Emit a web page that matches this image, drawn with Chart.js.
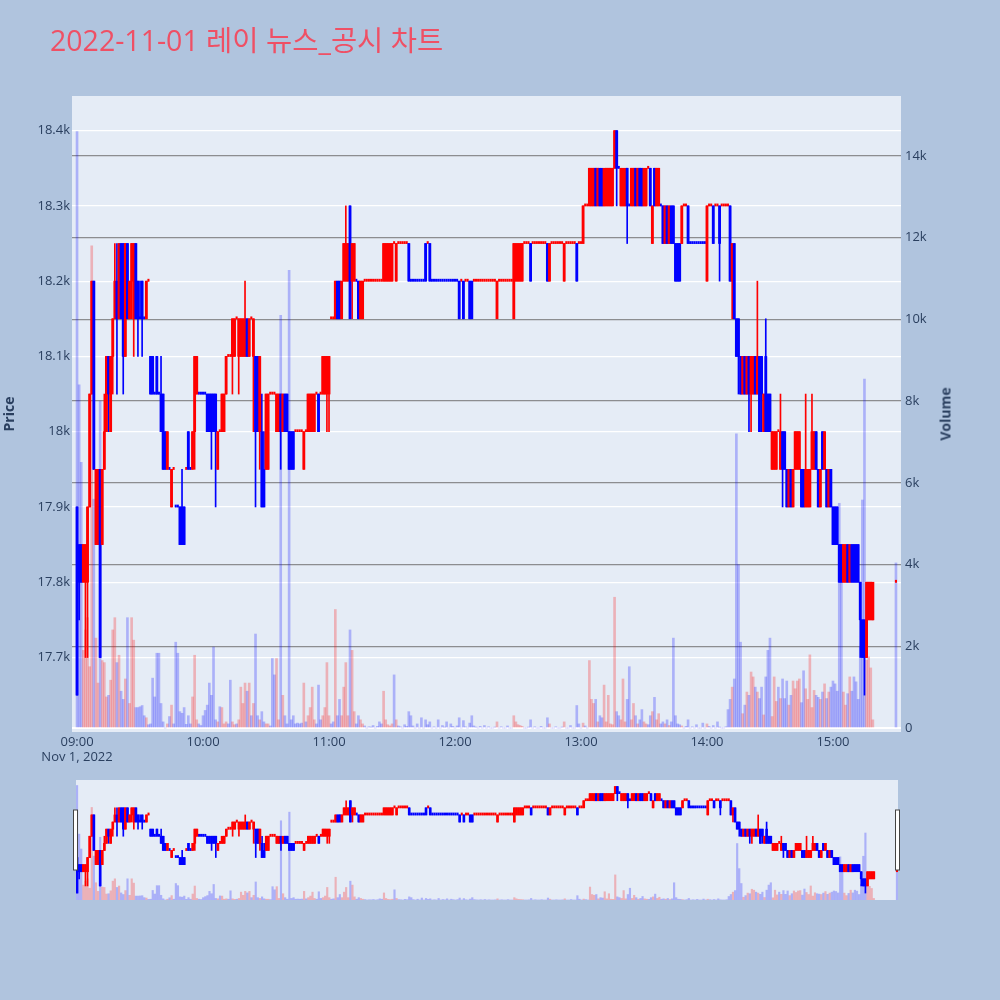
<!DOCTYPE html>
<html>
<head>
<meta charset="utf-8">
<script src="https://cdn.jsdelivr.net/npm/chart.js@4.4.0/dist/chart.umd.min.js"></script>
<style>
  html, body { margin: 0; padding: 0; width: 1000px; height: 1000px; overflow: hidden; background: #b0c4de; }
  #main { position: absolute; left: 0; top: 0; }
  #slider { position: absolute; left: 70px; top: 776px; }
  #title { position: absolute; left: 50px; top: 26px; z-index: 2; white-space: nowrap;
           font: 28.5px "Open Sans", "Noto Sans CJK KR", sans-serif; line-height: 28px; color: #ef5065; }
  #volTitle { position: absolute; left: 945px; top: 414px; z-index: 2; white-space: nowrap;
              transform: translate(-50%, -50%) rotate(-90deg);
              font: bold 14px "Open Sans", sans-serif; color: #2a3f5f; }
</style>
</head>
<body>
<canvas id="main" width="1000" height="770"></canvas>
<canvas id="slider" width="834" height="128"></canvas>
<div id="title">2022-11-01 레이 뉴스_공시 차트</div>
<div id="volTitle">Volume</div>
<script>
// 1분봉: 09:00 ~ 15:19, 마지막은 15:30 종가 단일가
const opens = [
  17900, 17850, 17850, 17800, 17800, 17800, 17900, 18050, 18200, 17850, // 09:00
  17850, 17950, 17850, 17950, 18000, 18100, 18000, 18100, 18150, 18200,
  18150, 18250, 18250, 18100, 18250, 18150, 18200, 18150, 18250, 18200,
  18150, 18200, 18150, 18150, 18200, 18100, 18100, 18050, 18100, 18050,
  18050, 18050, 18000, 17950, 17950, 17900, 17950, 17900, 17900, 17900,
  17900, 17900, 17950, 18000, 17950, 17950, 18000, 18050, 18050, 18050,
  18050, 18050, 18050, 18050, 18050, 18050, 18050, 17950, 18000, 18000, // 10:00
  18000, 18050, 18100, 18100, 18100, 18100, 18150, 18100, 18100, 18100,
  18100, 18150, 18100, 18150, 18100, 18100, 18100, 18000, 18000, 17950,
  17950, 17950, 18050, 18050, 18050, 18000, 18000, 18050, 18000, 18050,
  18050, 18000, 18000, 18000, 18000, 18000, 18000, 18000, 17950, 18000,
  18000, 18000, 18000, 18000, 18050, 18050, 18050, 18050, 18050, 18050,
  18050, 18150, 18150, 18150, 18200, 18200, 18150, 18200, 18200, 18200, // 11:00
  18300, 18200, 18200, 18200, 18200, 18150, 18150, 18200, 18200, 18200,
  18200, 18200, 18200, 18200, 18200, 18200, 18200, 18200, 18200, 18200,
  18200, 18250, 18200, 18250, 18250, 18250, 18250, 18250, 18250, 18200,
  18200, 18200, 18200, 18200, 18200, 18200, 18250, 18250, 18250, 18200,
  18200, 18200, 18200, 18200, 18200, 18200, 18200, 18200, 18200, 18200,
  18200, 18200, 18200, 18200, 18200, 18200, 18200, 18200, 18200, 18200, // 12:00
  18200, 18200, 18200, 18200, 18200, 18200, 18200, 18200, 18200, 18200,
  18150, 18200, 18200, 18200, 18200, 18200, 18200, 18200, 18150, 18200,
  18200, 18200, 18200, 18250, 18250, 18250, 18250, 18250, 18250, 18250,
  18250, 18250, 18250, 18250, 18250, 18200, 18250, 18250, 18250, 18250,
  18250, 18250, 18200, 18250, 18250, 18250, 18250, 18250, 18250, 18250,
  18250, 18250, 18300, 18300, 18300, 18300, 18300, 18350, 18300, 18350, // 13:00
  18350, 18300, 18300, 18300, 18300, 18300, 18350, 18400, 18350, 18300,
  18300, 18300, 18350, 18300, 18300, 18300, 18350, 18300, 18350, 18350,
  18300, 18300, 18350, 18350, 18250, 18350, 18300, 18300, 18300, 18300,
  18250, 18300, 18250, 18300, 18300, 18250, 18250, 18250, 18250, 18300,
  18300, 18300, 18250, 18250, 18250, 18250, 18250, 18250, 18250, 18250,
  18200, 18300, 18300, 18300, 18300, 18300, 18300, 18300, 18300, 18300, // 14:00
  18300, 18300, 18200, 18250, 18150, 18150, 18100, 18050, 18100, 18050,
  18100, 18050, 18050, 18100, 18050, 18100, 18100, 18000, 18100, 18050,
  18050, 17950, 17950, 17950, 18000, 17950, 18000, 18000, 17950, 17900,
  17950, 17900, 17950, 17950, 17950, 17950, 17950, 17900, 17900, 17900,
  17950, 17950, 18000, 17950, 17900, 18000, 17950, 17950, 17900, 17950,
  17900, 17900, 17900, 17850, 17850, 17800, 17800, 17850, 17800, 17850, // 15:00
  17850, 17850, 17850, 17800, 17750, 17750, 17700, 17750, 17750, 17750,
  17800
];
const highs = [
  17900, 17850, 17850, 17850, 17850, 17900, 18050, 18200, 18200, 17950,
  17950, 17950, 17950, 18050, 18100, 18100, 18100, 18150, 18250, 18250,
  18250, 18250, 18250, 18250, 18250, 18200, 18250, 18250, 18250, 18200,
  18200, 18200, 18150, 18200, 18200, 18100, 18100, 18050, 18100, 18050,
  18100, 18050, 18000, 18000, 17950, 17950, 17950, 17900, 17900, 17900,
  17950, 17900, 17950, 18000, 17950, 18000, 18100, 18100, 18050, 18050,
  18050, 18050, 18050, 18050, 18050, 18050, 18050, 18000, 18000, 18050,
  18050, 18100, 18100, 18100, 18150, 18150, 18150, 18150, 18150, 18150,
  18200, 18150, 18150, 18150, 18150, 18100, 18100, 18100, 18050, 18000,
  18050, 18050, 18050, 18050, 18050, 18050, 18050, 18050, 18050, 18050,
  18050, 18000, 18000, 18000, 18000, 18000, 18000, 18000, 18000, 18000,
  18050, 18050, 18050, 18050, 18050, 18050, 18050, 18100, 18100, 18100,
  18100, 18150, 18150, 18200, 18200, 18200, 18200, 18250, 18300, 18250,
  18300, 18250, 18250, 18200, 18200, 18200, 18200, 18200, 18200, 18200,
  18200, 18200, 18200, 18200, 18200, 18200, 18250, 18250, 18250, 18250,
  18250, 18250, 18250, 18250, 18250, 18250, 18250, 18250, 18250, 18200,
  18200, 18200, 18200, 18200, 18200, 18200, 18250, 18250, 18250, 18200,
  18200, 18200, 18200, 18200, 18200, 18200, 18200, 18200, 18200, 18200,
  18200, 18200, 18200, 18200, 18200, 18200, 18200, 18200, 18200, 18200,
  18200, 18200, 18200, 18200, 18200, 18200, 18200, 18200, 18200, 18200,
  18200, 18200, 18200, 18200, 18200, 18200, 18200, 18200, 18250, 18250,
  18250, 18250, 18250, 18250, 18250, 18250, 18250, 18250, 18250, 18250,
  18250, 18250, 18250, 18250, 18250, 18250, 18250, 18250, 18250, 18250,
  18250, 18250, 18250, 18250, 18250, 18250, 18250, 18250, 18250, 18250,
  18250, 18300, 18300, 18300, 18350, 18350, 18350, 18350, 18350, 18350,
  18350, 18350, 18350, 18350, 18350, 18350, 18400, 18400, 18350, 18350,
  18350, 18350, 18350, 18300, 18350, 18350, 18350, 18350, 18350, 18350,
  18350, 18350, 18350, 18350, 18300, 18350, 18350, 18350, 18300, 18300,
  18300, 18300, 18300, 18300, 18300, 18250, 18250, 18250, 18300, 18300,
  18300, 18300, 18250, 18250, 18250, 18250, 18250, 18250, 18250, 18250,
  18300, 18300, 18300, 18300, 18300, 18300, 18300, 18300, 18300, 18300,
  18300, 18300, 18250, 18250, 18150, 18150, 18100, 18100, 18100, 18100,
  18100, 18100, 18100, 18100, 18200, 18100, 18100, 18050, 18150, 18050,
  18050, 18000, 18000, 18000, 18000, 18050, 18000, 18000, 17950, 17950,
  17950, 17950, 18000, 18000, 18000, 17950, 17950, 18050, 17950, 17950,
  18050, 18000, 18000, 17950, 17950, 18000, 18000, 17950, 17950, 17950,
  17900, 17900, 17900, 17850, 17850, 17850, 17850, 17850, 17850, 17850,
  17850, 17850, 17850, 17800, 17750, 17750, 17800, 17800, 17800, 17800,
  17800
];
const lows = [
  17650, 17750, 17800, 17800, 17700, 17700, 17900, 18050, 17950, 17850,
  17850, 17700, 17850, 17950, 18000, 18000, 18000, 18050, 18150, 18050,
  18150, 18150, 18050, 18100, 18150, 18150, 18150, 18100, 18150, 18100,
  18150, 18100, 18150, 18150, 18200, 18050, 18050, 18050, 18050, 18050,
  18000, 17950, 17950, 17950, 17950, 17900, 17950, 17900, 17900, 17850,
  17850, 17850, 17950, 17950, 17950, 17950, 17950, 18050, 18050, 18050,
  18050, 18050, 18000, 18000, 17950, 18000, 17900, 17950, 18000, 18000,
  18000, 18050, 18100, 18100, 18050, 18100, 18150, 18050, 18100, 18100,
  18100, 18100, 18100, 18150, 18000, 17900, 18000, 17950, 17900, 17900,
  17950, 17950, 18050, 18050, 18050, 18000, 18000, 17950, 18000, 18000,
  18000, 17950, 17950, 17950, 18000, 18000, 18000, 18000, 17950, 18000,
  18000, 18000, 18000, 18000, 18050, 18000, 18050, 18050, 18050, 18000,
  18000, 18150, 18150, 18150, 18150, 18150, 18150, 18200, 18200, 18200,
  18150, 18150, 18200, 18200, 18150, 18150, 18150, 18200, 18200, 18200,
  18200, 18200, 18200, 18200, 18200, 18200, 18200, 18200, 18200, 18200,
  18200, 18250, 18200, 18250, 18250, 18250, 18250, 18250, 18200, 18200,
  18200, 18200, 18200, 18200, 18200, 18200, 18200, 18250, 18200, 18200,
  18200, 18200, 18200, 18200, 18200, 18200, 18200, 18200, 18200, 18200,
  18200, 18200, 18150, 18200, 18150, 18200, 18200, 18150, 18150, 18200,
  18200, 18200, 18200, 18200, 18200, 18200, 18200, 18200, 18200, 18200,
  18150, 18200, 18200, 18200, 18200, 18200, 18200, 18200, 18150, 18200,
  18200, 18200, 18200, 18250, 18250, 18250, 18200, 18250, 18250, 18250,
  18250, 18250, 18250, 18250, 18200, 18200, 18250, 18250, 18250, 18250,
  18250, 18250, 18200, 18250, 18250, 18250, 18250, 18250, 18200, 18250,
  18250, 18250, 18300, 18300, 18300, 18300, 18300, 18300, 18300, 18300,
  18300, 18300, 18300, 18300, 18300, 18300, 18350, 18300, 18350, 18300,
  18300, 18300, 18250, 18300, 18300, 18300, 18300, 18300, 18300, 18300,
  18300, 18300, 18350, 18300, 18250, 18300, 18300, 18300, 18300, 18250,
  18250, 18250, 18250, 18250, 18250, 18200, 18200, 18200, 18250, 18300,
  18300, 18250, 18250, 18250, 18250, 18250, 18250, 18250, 18250, 18250,
  18200, 18300, 18300, 18250, 18300, 18300, 18200, 18300, 18300, 18300,
  18300, 18200, 18150, 18150, 18100, 18050, 18050, 18050, 18050, 18050,
  18000, 18000, 18050, 18050, 18050, 18000, 18000, 18000, 18000, 18000,
  18000, 17950, 17950, 17950, 18000, 17950, 17900, 17950, 17900, 17900,
  17900, 17900, 17950, 17950, 17950, 17900, 17900, 17900, 17900, 17900,
  17950, 17950, 17950, 17900, 17900, 17950, 17950, 17900, 17900, 17900,
  17850, 17850, 17850, 17800, 17800, 17800, 17800, 17800, 17800, 17800,
  17800, 17800, 17800, 17700, 17700, 17650, 17700, 17750, 17750, 17750,
  17800
];
const closes = [
  17650, 17800, 17800, 17850, 17850, 17900, 18050, 18200, 17950, 17950,
  17950, 17700, 17950, 18000, 18100, 18050, 18100, 18150, 18200, 18150,
  18250, 18150, 18100, 18250, 18150, 18200, 18250, 18250, 18150, 18150,
  18150, 18150, 18150, 18200, 18200, 18050, 18050, 18050, 18050, 18050,
  18000, 17950, 17950, 18000, 17950, 17950, 17950, 17900, 17900, 17850,
  17850, 17850, 17950, 17950, 17950, 18000, 18100, 18100, 18050, 18050,
  18050, 18050, 18000, 18000, 18000, 18000, 18000, 18000, 18000, 18050,
  18050, 18100, 18100, 18100, 18150, 18150, 18150, 18150, 18150, 18150,
  18150, 18100, 18150, 18150, 18150, 18000, 18000, 18100, 17900, 17900,
  18050, 18050, 18050, 18050, 18050, 18050, 18050, 18000, 18050, 18000,
  18000, 17950, 17950, 17950, 18000, 18000, 18000, 18000, 18000, 18000,
  18050, 18050, 18050, 18050, 18050, 18000, 18050, 18100, 18100, 18100,
  18100, 18150, 18150, 18200, 18150, 18150, 18200, 18250, 18250, 18250,
  18150, 18250, 18250, 18200, 18150, 18200, 18200, 18200, 18200, 18200,
  18200, 18200, 18200, 18200, 18200, 18200, 18250, 18250, 18250, 18250,
  18250, 18250, 18250, 18250, 18250, 18250, 18250, 18250, 18200, 18200,
  18200, 18200, 18200, 18200, 18200, 18200, 18200, 18250, 18200, 18200,
  18200, 18200, 18200, 18200, 18200, 18200, 18200, 18200, 18200, 18200,
  18200, 18200, 18150, 18200, 18150, 18200, 18200, 18150, 18150, 18200,
  18200, 18200, 18200, 18200, 18200, 18200, 18200, 18200, 18200, 18200,
  18200, 18200, 18200, 18200, 18200, 18200, 18200, 18200, 18250, 18250,
  18250, 18250, 18250, 18250, 18250, 18250, 18200, 18250, 18250, 18250,
  18250, 18250, 18250, 18250, 18200, 18250, 18250, 18250, 18250, 18250,
  18250, 18250, 18250, 18250, 18250, 18250, 18250, 18250, 18200, 18250,
  18250, 18300, 18300, 18300, 18350, 18350, 18350, 18300, 18350, 18300,
  18300, 18350, 18350, 18350, 18350, 18350, 18400, 18350, 18350, 18350,
  18350, 18350, 18300, 18300, 18350, 18350, 18300, 18350, 18300, 18300,
  18350, 18350, 18350, 18300, 18300, 18300, 18350, 18350, 18300, 18250,
  18300, 18250, 18300, 18250, 18250, 18200, 18200, 18200, 18300, 18300,
  18300, 18250, 18250, 18250, 18250, 18250, 18250, 18250, 18250, 18250,
  18300, 18300, 18300, 18250, 18300, 18300, 18250, 18300, 18300, 18300,
  18300, 18200, 18250, 18150, 18100, 18100, 18050, 18100, 18050, 18100,
  18050, 18100, 18100, 18050, 18100, 18000, 18050, 18050, 18000, 18000,
  18000, 18000, 18000, 18000, 18000, 18000, 17950, 17950, 17900, 17950,
  17900, 17950, 18000, 18000, 18000, 17900, 17900, 17950, 17950, 17950,
  18000, 18000, 17950, 17900, 17950, 17950, 18000, 17900, 17950, 17900,
  17850, 17850, 17850, 17800, 17800, 17850, 17850, 17800, 17850, 17800,
  17800, 17800, 17800, 17750, 17700, 17700, 17800, 17800, 17800, 17800,
  17800
];
const volumes = [
  14600, 8400, 6500, 1900, 2400, 2700, 1500, 11800, 5600, 2200,
  1100, 8000, 1650, 1600, 760, 800, 1170, 2400, 2700, 1600,
  1780, 900, 700, 1200, 2700, 600, 2700, 2150, 500, 500,
  520, 550, 300, 250, 80, 100, 1220, 760, 1830, 1830,
  600, 150, 0, 100, 280, 560, 100, 2100, 1830, 400,
  360, 500, 90, 300, 100, 760, 1780, 200, 100, 60,
  300, 430, 560, 1100, 800, 1980, 200, 150, 520, 500,
  100, 150, 100, 1170, 150, 80, 100, 200, 1000, 600,
  1100, 900, 1100, 300, 600, 2300, 300, 200, 400, 150,
  100, 100, 50, 1700, 1300, 1700, 200, 10100, 800, 300,
  100, 11200, 200, 300, 100, 120, 100, 120, 1100, 150,
  300, 500, 1000, 200, 100, 1050, 200, 300, 500, 1600,
  300, 100, 150, 2900, 300, 700, 300, 1000, 1600, 300,
  2400, 1900, 400, 100, 300, 200, 100, 50, 0, 30,
  20, 60, 0, 40, 150, 100, 900, 200, 80, 50,
  100, 1300, 200, 50, 30, 0, 80, 40, 400, 300,
  50, 0, 100, 0, 250, 0, 200, 80, 150, 0,
  30, 0, 200, 0, 60, 20, 150, 0, 100, 40,
  0, 50, 250, 0, 180, 30, 0, 120, 300, 50,
  20, 0, 40, 0, 60, 0, 30, 0, 0, 20,
  150, 0, 30, 0, 0, 50, 0, 0, 300, 150,
  80, 60, 40, 0, 0, 20, 200, 0, 30, 0,
  0, 40, 0, 0, 250, 100, 0, 0, 30, 0,
  0, 20, 150, 0, 0, 60, 0, 0, 550, 100,
  0, 120, 50, 0, 1650, 700, 600, 700, 150, 300,
  250, 1050, 150, 800, 100, 80, 3200, 400, 300, 200,
  1200, 150, 700, 1500, 200, 600, 300, 100, 200, 450,
  150, 100, 80, 300, 400, 750, 200, 350, 100, 150,
  100, 200, 60, 150, 2200, 300, 100, 80, 50, 0,
  40, 200, 0, 30, 0, 80, 0, 0, 120, 0,
  100, 40, 0, 60, 0, 150, 20, 0, 0, 30,
  450, 700, 1000, 1200, 7200, 4000, 2100, 350, 560, 880,
  800, 1370, 1250, 1000, 880, 720, 1000, 320, 1250, 1900,
  2200, 280, 1250, 650, 1000, 720, 1200, 720, 1150, 560,
  800, 1150, 960, 1150, 1200, 620, 1400, 960, 700, 1790,
  500, 920, 800, 750, 700, 880, 1080, 720, 880, 1000,
  1150, 1080, 900, 5500, 4000, 880, 560, 840, 1250, 900,
  1250, 1130, 700, 1990, 5580, 8540, 1660, 1740, 1470, 200,
  4040
];

const xTickLabels = ['09:00', '10:00', '11:00', '12:00', '13:00', '14:00', '15:00'];
const dateLabel = 'Nov 1, 2022';
const priceTicks = [17700, 17800, 17900, 18000, 18100, 18200, 18300, 18400];
const volumeTicks = [0, 2000, 4000, 6000, 8000, 10000, 12000, 14000];

function hhmm(m) {
  const h = 9 + Math.floor(m / 60), mm = m % 60;
  return String(h).padStart(2, '0') + ':' + String(mm).padStart(2, '0');
}
function toMinutes(t) {
  const [h, m] = t.split(':').map(Number);
  return (h - 9) * 60 + m;
}

const times = [];
for (let m = 0; m < 380; m++) times.push(hhmm(m));
times.push('15:30');

const arrays = { opens, highs, lows, closes, volumes };
for (const k in arrays) {
  if (arrays[k].length !== times.length) throw new Error(k + ' has ' + arrays[k].length + ', expected ' + times.length);
}

// 도지는 직전 종가와 비교, 같으면 직전 봉 색을 따른다
const rising = [];
closes.forEach((c, i) => {
  const o = opens[i];
  if (c > o) rising.push(true);
  else if (c < o) rising.push(false);
  else if (i > 0 && c !== closes[i - 1]) rising.push(c > closes[i - 1]);
  else rising.push(i > 0 ? rising[i - 1] : false);
});

const UP = '#ff0000', DOWN = '#0000ff';
const VOL_UP = 'rgba(255, 0, 0, 0.25)', VOL_DOWN = 'rgba(0, 0, 255, 0.25)';
const xs = times.map(toMinutes);
const candleColors = rising.map(r => r ? UP : DOWN);

function candleSets(bodyW, dojiW, wickW, volW) {
  return [
    {
      yAxisID: 'y1', order: 4, grouped: false, barThickness: volW,
      data: xs.map((m, i) => ({ x: m, y: volumes[i] })),
      backgroundColor: closes.map((c, i) => c > opens[i] ? VOL_UP : VOL_DOWN),
    },
    {
      yAxisID: 'y', order: 3, grouped: false, barThickness: wickW,
      data: xs.map((m, i) => ({ x: m, y: [lows[i], highs[i]] })),
      backgroundColor: candleColors,
    },
    {
      // 시가 = 종가인 봉은 점선처럼 보이는 얇은 가로선
      yAxisID: 'y', order: 2, grouped: false, barThickness: dojiW, minBarLength: 2,
      data: xs.map((m, i) => ({ x: m, y: opens[i] === closes[i] ? [opens[i], closes[i]] : null })),
      backgroundColor: candleColors,
    },
    {
      yAxisID: 'y', order: 1, grouped: false, barThickness: bodyW,
      data: xs.map((m, i) => ({ x: m, y: opens[i] !== closes[i] ? [opens[i], closes[i]] : null })),
      backgroundColor: candleColors,
    },
  ];
}

const plotBg = {
  id: 'plotBg',
  beforeDraw(chart) {
    const { ctx, chartArea: a } = chart;
    ctx.save();
    ctx.fillStyle = '#e5ecf6';
    ctx.fillRect(a.left, a.top, a.right - a.left, a.bottom - a.top);
    ctx.restore();
  }
};

const tickFont = { family: '"Open Sans", sans-serif', size: 13 };
const inkColor = '#2a3f5f';

new Chart(document.getElementById('main'), {
  type: 'bar',
  data: { datasets: candleSets(2.2, 1.4, 1, 2) },
  options: {
    responsive: false,
    animation: false,
    devicePixelRatio: 1,
    layout: { padding: { top: 96, right: 43, bottom: 0, left: 0 } },
    plugins: { legend: { display: false }, tooltip: { enabled: false } },
    scales: {
      x: {
        type: 'linear', min: -2.4, max: 392.4, offset: false,
        grid: { display: false, drawTicks: false }, border: { display: false },
        afterFit: s => { s.height = 38; },
        afterBuildTicks: s => { s.ticks = xTickLabels.map(t => ({ value: toMinutes(t) })); },
        ticks: {
          padding: 2, maxRotation: 0, autoSkip: false, font: tickFont, color: inkColor,
          callback: v => v === 0 ? [hhmm(v), dateLabel] : hhmm(v)
        }
      },
      y: {
        position: 'left', min: 17601, max: 18446,
        grid: { color: '#ffffff', lineWidth: 1.2, drawTicks: false }, border: { display: false },
        afterFit: s => { s.width = 72; },
        afterBuildTicks: s => { s.ticks = priceTicks.map(v => ({ value: v })); },
        ticks: { padding: 2, font: tickFont, color: inkColor, callback: v => +(v / 1000).toFixed(1) + 'k' },
        title: { display: true, text: 'Price', color: inkColor, padding: { top: 2, bottom: 0 },
                 font: { family: '"Open Sans", sans-serif', size: 14, weight: 'bold' } }
      },
      y1: {
        position: 'right', min: -98, max: 15468,
        grid: {
          drawTicks: false,
          color: c => c.tick && c.tick.value === 0 ? '#ffffff' : 'rgba(110, 110, 110, 0.75)',
          lineWidth: c => c.tick && c.tick.value === 0 ? 2 : 1.3
        },
        border: { display: false },
        afterFit: s => { s.width = 56; },
        afterBuildTicks: s => { s.ticks = volumeTicks.map(v => ({ value: v })); },
        ticks: { padding: 4, font: tickFont, color: inkColor, callback: v => v === 0 ? '0' : (v / 1000) + 'k' }
      }
    }
  },
  plugins: [plotBg]
});

// 레인지 슬라이더 (전체 구간 미니 차트 + 양쪽 손잡이)
const handles = {
  id: 'handles',
  afterDraw(chart) {
    const { ctx, chartArea: a } = chart;
    ctx.save();
    ctx.fillStyle = '#ffffff';
    ctx.strokeStyle = '#444444';
    ctx.lineWidth = 1;
    [a.left, a.right].forEach(x => {
      ctx.fillRect(x - 2.5, a.top + 30, 4, 60);
      ctx.strokeRect(x - 2.5, a.top + 30, 4, 60);
    });
    ctx.restore();
  }
};

new Chart(document.getElementById('slider'), {
  type: 'bar',
  data: { datasets: candleSets(2, 1.4, 1, 1.5) },
  options: {
    responsive: false,
    animation: false,
    devicePixelRatio: 1,
    layout: { padding: { top: 4, right: 6, bottom: 4, left: 6 } },
    plugins: { legend: { display: false }, tooltip: { enabled: false } },
    scales: {
      x: { type: 'linear', display: false, min: -0.5, max: 390.5, offset: false },
      y: { display: false, min: 17601, max: 18446 },
      y1: { display: false, position: 'right', min: 0, max: 15300 }
    }
  },
  plugins: [plotBg, handles]
});
</script>
</body>
</html>
